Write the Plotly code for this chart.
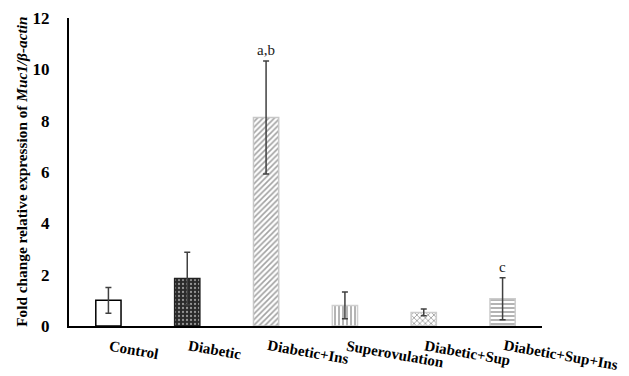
import plotly.graph_objects as go

categories = ["Control", "Diabetic", "Diabetic+Ins", "Superovulation", "Diabetic+Sup", "Diabetic+Sup+Ins"]
values = [1.0, 1.85, 8.12, 0.8, 0.53, 1.06]
errors = [0.5, 1.02, 2.2, 0.52, 0.13, 0.82]
sig_labels = ["", "", "a,b", "", "", "c"]
y_ticks = [0, 2, 4, 6, 8, 10, 12]

pattern_shapes = ["", ".", "/", "|", "x", "-"]
pattern_fg = ["#000000", "#9a9a9a", "#8a8a8a", "#b0b0b0", "#a0a0a0", "#9a9a9a"]
pattern_bg = ["#ffffff", "#2a2a2a", "#ffffff", "#ffffff", "#ffffff", "#ffffff"]
pattern_solidity = [0.4, 0.25, 0.4, 0.4, 0.4, 0.4]
line_colors = ["#000000", "#222222", "#c8c8c8", "#d0d0d0", "#cccccc", "#cccccc"]

FONT = "Liberation Serif, Times New Roman, serif"

fig = go.Figure()
fig.add_trace(go.Bar(
    x=categories, y=values, width=0.32,
    marker=dict(
        color=pattern_bg,
        line=dict(color=line_colors, width=1.5),
        pattern=dict(shape=pattern_shapes, fgcolor=pattern_fg, bgcolor=pattern_bg,
                     size=4, solidity=pattern_solidity, fillmode="overlay"),
    ),
    error_y=dict(type="data", array=errors, visible=True, color="#404040", thickness=1.5, width=3),
    showlegend=False,
))

annotations = []
for i, (c, v, e, s) in enumerate(zip(categories, values, errors, sig_labels)):
    if s:
        annotations.append(dict(x=c, y=v + e, xref="x", yref="y", text=s, showarrow=False,
                                yanchor="bottom", yshift=1,
                                font=dict(family=FONT, size=15, color="#222222")))
    annotations.append(dict(x=i - 0.03, y=0, xref="x", yref="y", text="<b>" + c + "</b>",
                            showarrow=False, textangle=10, xanchor="left", yanchor="top",
                            yshift=-9, font=dict(family=FONT, size=15, color="#000000")))

annotations.append(dict(x=-0.102, y=0.5, xref="paper", yref="paper",
                        text="<b>Fold change relative expression of <i>Muc1/β-actin</i></b>",
                        textangle=-90, showarrow=False, xanchor="center", yanchor="middle",
                        font=dict(family=FONT, size=15.3, color="#000000")))

# page body has an 8px default margin, so the figure is sized to fit the window
fig.update_layout(
    width=621, height=368,
    margin=dict(l=61, r=87, t=10, b=50),
    paper_bgcolor="white", plot_bgcolor="white",
    annotations=annotations,
    xaxis=dict(type="category", range=[-0.5, 5.5], showticklabels=False, showgrid=False,
               showline=True, linecolor="black", linewidth=2, ticks="", zeroline=False,
               automargin=False),
    yaxis=dict(range=[0, 12], tickvals=y_ticks, showgrid=False, showline=True,
               linecolor="black", linewidth=2, ticks="", zeroline=False,
               ticklabelstandoff=14, automargin=False,
               tickfont=dict(family=FONT, size=17, color="#000000", weight="bold")),
)

fig.write_html("out.html")
